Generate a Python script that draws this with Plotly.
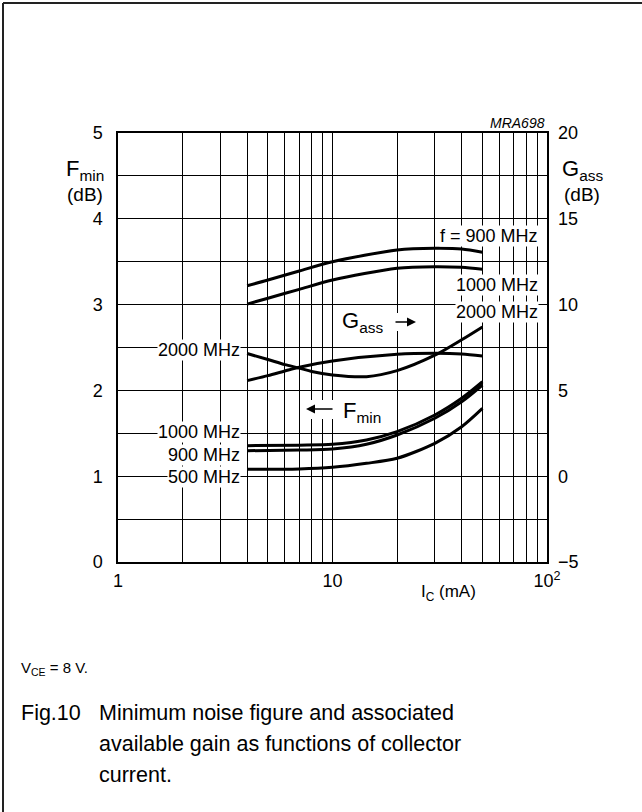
import plotly.graph_objects as go

# ---- data (Ic in mA) ----
ic_gass = [4, 5, 7, 10, 20, 30, 40, 50]
gass_900 = [11.10, 11.43, 11.96, 12.50, 13.18, 13.28, 13.24, 13.05]
gass_1000 = [10.03, 10.37, 10.89, 11.43, 12.12, 12.21, 12.17, 12.06]

ic_gass_2000 = [4, 5, 6, 7, 10, 20, 30, 40, 50]
gass_2000 = [5.57, 5.86, 6.13, 6.35, 6.71, 7.10, 7.16, 7.12, 7.00]

ic_fmin_2000 = [4, 5, 6, 7, 8, 10, 14.4, 20, 30, 40, 50]
fmin_2000 = [2.43, 2.36, 2.30, 2.26, 2.22, 2.18, 2.16, 2.23, 2.41, 2.59, 2.74]

ic_fmin = [4, 7, 10, 14.4, 20, 30, 40, 50]
fmin_1000 = [1.356, 1.362, 1.372, 1.422, 1.519, 1.713, 1.908, 2.101]
fmin_900 = [1.297, 1.305, 1.317, 1.372, 1.480, 1.675, 1.868, 2.063]
fmin_500 = [1.080, 1.085, 1.104, 1.150, 1.209, 1.383, 1.577, 1.791]

x_grid = [1, 2, 3, 4, 5, 6, 7, 8, 9, 10, 20, 30, 40, 50, 60, 70, 80, 90, 100]
x_labels = {1: "1", 10: "10", 100: "10<sup>2</sup>"}
fmin_grid = [0, 0.5, 1, 1.5, 2, 2.5, 3, 3.5, 4, 4.5, 5]
gass_ticks = [-5, 0, 5, 10, 15, 20]
gass_ticktext = ["\u22125", "0", "5", "10", "15", "20"]

FONT = "Arial, Liberation Sans, sans-serif"

# plot area in pixels
X0, X1, Y0, Y1 = 118, 547, 133, 562


def xp(px):
    return (px - X0) / (X1 - X0)


def yp(py):
    return (Y1 - py) / (Y1 - Y0)


fig = go.Figure()

line = dict(color="black", width=3, shape="spline", smoothing=0.8)
for xs, ys in [(ic_fmin_2000, fmin_2000), (ic_fmin, fmin_1000),
               (ic_fmin, fmin_900), (ic_fmin, fmin_500)]:
    fig.add_trace(go.Scatter(x=xs, y=ys, mode="lines", line=line,
                             yaxis="y", showlegend=False, hoverinfo="skip"))
for xs, ys in [(ic_gass, gass_900), (ic_gass, gass_1000),
               (ic_gass_2000, gass_2000)]:
    fig.add_trace(go.Scatter(x=xs, y=ys, mode="lines", line=line,
                             yaxis="y2", showlegend=False, hoverinfo="skip"))

fig.update_layout(
    width=642, height=812,
    margin=dict(l=X0, r=642 - X1, t=Y0, b=812 - Y1),
    paper_bgcolor="white", plot_bgcolor="white",
    font=dict(family=FONT, size=18, color="black"),
    xaxis=dict(
        type="log", range=[0, 2],
        tickvals=x_grid,
        ticktext=[x_labels.get(v, "") for v in x_grid],
        showgrid=True, gridcolor="black", gridwidth=1.2,
        showline=True, linecolor="black", linewidth=1.5, mirror=True,
        ticks="", ticklabelstandoff=2, zeroline=False,
    ),
    yaxis=dict(
        range=[0, 5],
        tickvals=fmin_grid,
        ticktext=[str(int(v)) if v == int(v) else "" for v in fmin_grid],
        showgrid=True, gridcolor="black", gridwidth=1.2,
        showline=True, linecolor="black", linewidth=1.5, mirror=True,
        ticks="", ticklabelstandoff=10, zeroline=False,
    ),
    yaxis2=dict(
        range=[-5, 20], overlaying="y", side="right",
        tickvals=gass_ticks, ticktext=gass_ticktext,
        showgrid=False, showline=False, ticks="", ticklabelstandoff=10,
        zeroline=False,
    ),
)

# white patches behind the small arrows (gridlines are broken there)
for bx0, bx1, by0, by1 in [(300, 336, 400, 419), (391, 419, 313, 331)]:
    fig.add_shape(type="rect", xref="paper", yref="paper",
                  x0=xp(bx0), x1=xp(bx1), y0=yp(by1), y1=yp(by0),
                  fillcolor="white", line=dict(width=0), layer="above")

# outer frame (top and left edges of the page)
fig.add_shape(type="line", xref="paper", yref="paper",
              x0=xp(3), x1=xp(660), y0=yp(3), y1=yp(3),
              line=dict(color="#222", width=2))
fig.add_shape(type="line", xref="paper", yref="paper",
              x0=xp(3), x1=xp(3), y0=yp(3), y1=yp(830),
              line=dict(color="#222", width=2))


def label(text, px, py, xanchor="center", size=18, bg=None, italic=False):
    fig.add_annotation(
        text=f"<i>{text}</i>" if italic else text,
        xref="paper", yref="paper", x=xp(px), y=yp(py),
        xanchor=xanchor, yanchor="middle", showarrow=False,
        font=dict(family=FONT, size=size, color="black"),
        bgcolor=bg, borderpad=0,
    )


# axis titles
label("F<sub>min</sub>", 85, 170, size=22)
label("(dB)", 85, 194, size=19)
label("G<sub>ass</sub>", 582, 170, size=22)
label("(dB)", 582, 194, size=19)
label("I<sub>C</sub> (mA)", 448, 593, size=17)
label("MRA698", 546, 123, xanchor="right", size=14, italic=True)

# curve labels, right side (Gass)
label("f = 900 MHz", 539, 236, xanchor="right", bg="white")
label("1000 MHz", 539, 285, xanchor="right", bg="white")
label("2000 MHz", 539, 312, xanchor="right", bg="white")

# curve labels, left side (Fmin)
label("2000 MHz", 241, 350, xanchor="right", bg="white")
label("1000 MHz", 241, 432, xanchor="right", bg="white")
label("900 MHz", 241, 455, xanchor="right", bg="white")
label("500 MHz", 241, 477, xanchor="right", bg="white")

# axis pointers
label("G<sub>ass</sub>", 362, 322, size=22)
label("F<sub>min</sub>", 362, 412, size=22)
for hx, tx, hy in [(416, 394, 322), (306, 334, 409)]:
    fig.add_annotation(
        xref="paper", yref="paper", x=xp(hx), y=yp(hy),
        ax=tx - hx, ay=0, text="", showarrow=True,
        arrowhead=2, arrowsize=1.2, arrowwidth=1.5, arrowcolor="black",
    )

# notes under the chart
label("V<sub>CE</sub> = 8 V.", 20, 668, xanchor="left", size=15)
label("Fig.10", 20, 713, xanchor="left", size=21.5)
label("Minimum noise figure and associated", 98, 713, xanchor="left", size=21.5)
label("available gain as functions of collector", 98, 744, xanchor="left", size=21.5)
label("current.", 98, 775, xanchor="left", size=21.5)

# the page body has a default 8px margin; drop it so the figure sits at 0,0
fig.write_html("out.html", config={"displayModeBar": False},
               post_script="document.body.style.margin='0';")
